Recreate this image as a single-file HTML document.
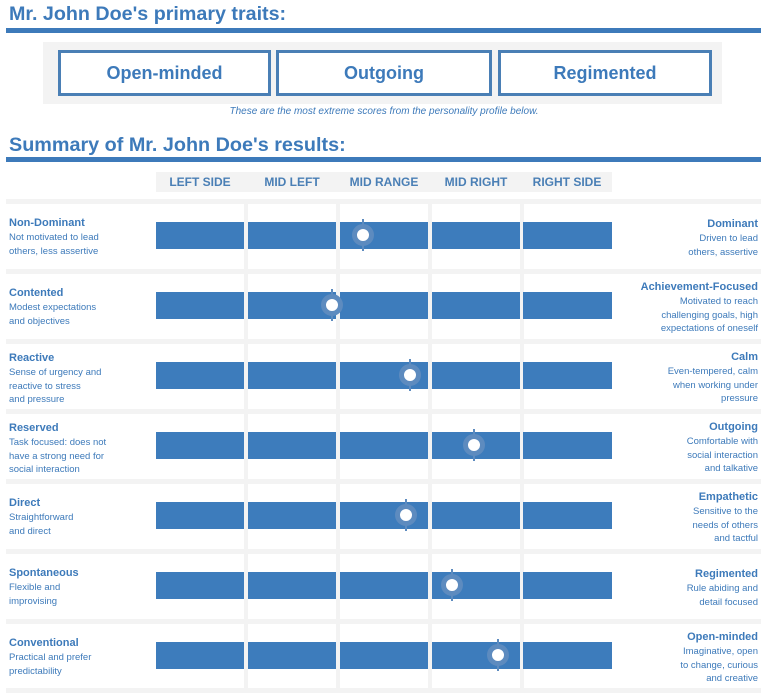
<!DOCTYPE html>
<html><head><style>
body{margin:0;width:768px;height:699px;background:#fff;position:relative;overflow:hidden;font-family:"Liberation Sans",Arial,sans-serif;color:#3d7aba}
div{position:absolute}
.h{font-weight:bold;font-size:19.7px;left:9px}
.rule{left:6px;width:755px;height:5px;background:#3d7aba}
.box{border:3px solid #4a7fb5;background:#fff;font-weight:bold;font-size:18px;text-align:center;line-height:40px;height:40px;top:50px}
.ch{top:172px;height:20px;line-height:20px;font-weight:bold;font-size:12px;text-align:center;width:88px;color:#4a7fb5}
.sep{left:6px;width:755px;height:5px;background:#f3f3f3}
.vs{width:4px;background:#f3f3f3;top:199px;height:493px}
.bar{height:27px;background:#3d7cbc;width:88px}
.lt{left:9px;font-size:9.5px;line-height:13.5px;width:140px}
.rt{right:10px;font-size:9.5px;line-height:13.5px;width:150px;text-align:right}
b{font-size:11px;display:block;line-height:15px}
.m{width:12px;height:12px;border-radius:50%;background:#fff;border:5px solid #5d8bbf}
.t{width:2px;height:32px;background:#5d8bbf}
</style></head><body>
<div class="h" style="top:3px">Mr. John Doe's primary traits:</div>
<div class="rule" style="top:28px"></div>
<div style="left:43px;top:42px;width:679px;height:62px;background:#f3f3f3"></div>
<div class="box" style="left:58px;width:207px">Open-minded</div>
<div class="box" style="left:276px;width:210px">Outgoing</div>
<div class="box" style="left:498px;width:208px">Regimented</div>
<div style="left:0;width:768px;top:106px;text-align:center;font-size:10px;font-style:italic">These are the most extreme scores from the personality profile below.</div>
<div class="h" style="top:134px;font-size:19.8px">Summary of Mr. John Doe's results:</div>
<div class="rule" style="top:157px"></div>
<div style="left:156px;top:172px;width:456px;height:20px;background:#f3f3f3"></div>
<div class="ch" style="left:156px">LEFT SIDE</div>
<div class="ch" style="left:248px">MID LEFT</div>
<div class="ch" style="left:340px">MID RANGE</div>
<div class="ch" style="left:432px">MID RIGHT</div>
<div class="ch" style="left:523px">RIGHT SIDE</div>
<div class="vs" style="left:244px"></div><div class="vs" style="left:336px"></div><div class="vs" style="left:428px"></div><div class="vs" style="left:520px"></div>
<div class="sep" style="top:199px"></div><div class="sep" style="top:269px"></div><div class="sep" style="top:339px"></div><div class="sep" style="top:409px"></div><div class="sep" style="top:479px"></div><div class="sep" style="top:549px"></div><div class="sep" style="top:619px"></div><div class="sep" style="top:688px"></div>
<script>
var rows=[
["Non-Dominant","Not motivated to lead<br>others, less assertive","Dominant","Driven to lead<br>others, assertive",363],
["Contented","Modest expectations<br>and objectives","Achievement-Focused","Motivated to reach<br>challenging goals, high<br>expectations of oneself",332],
["Reactive","Sense of urgency and<br>reactive to stress<br>and pressure","Calm","Even-tempered, calm<br>when working under<br>pressure",410],
["Reserved","Task focused: does not<br>have a strong need for<br>social interaction","Outgoing","Comfortable with<br>social interaction<br>and talkative",474],
["Direct","Straightforward<br>and direct","Empathetic","Sensitive to the<br>needs of others<br>and tactful",406],
["Spontaneous","Flexible and<br>improvising","Regimented","Rule abiding and<br>detail focused",452],
["Conventional","Practical and prefer<br>predictability","Open-minded","Imaginative, open<br>to change, curious<br>and creative",498]];
var h="";
rows.forEach(function(r,i){var y=222+70*i;
[156,248,340,432,523].forEach(function(x){h+='<div class="bar" style="left:'+x+'px;top:'+y+'px;width:'+(x==523?89:88)+'px"></div>';});
h+='<div class="t" style="left:'+(r[4]-1)+'px;top:'+(y-3)+'px"></div>';
h+='<div class="m" style="left:'+(r[4]-11)+'px;top:'+(y+2)+'px"></div>';
var rl=r[3].split("<br>").length; var ry=y-5-(rl>2?7:0);
var ll=r[1].split("<br>").length; var ly=y-6-(ll>2?7:0)+(ll>2?2:0);
h+='<div class="lt" style="top:'+ly+'px"><b>'+r[0]+'</b>'+r[1]+'</div>';
h+='<div class="rt" style="top:'+ry+'px"><b>'+r[2]+'</b>'+r[3]+'</div>';});
document.write(h);
</script>
</body></html>
